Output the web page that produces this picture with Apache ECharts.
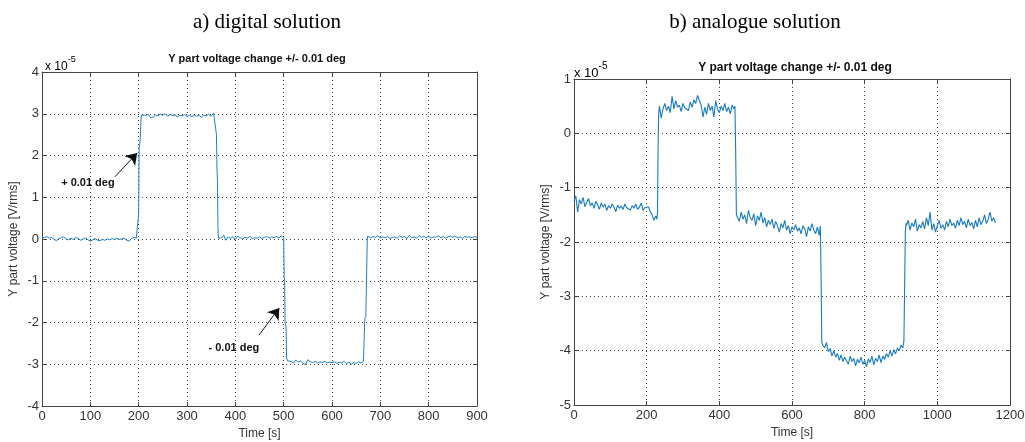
<!DOCTYPE html>
<html>
<head>
<meta charset="utf-8">
<script src="https://cdn.jsdelivr.net/npm/echarts@6/dist/echarts.min.js"></script>
<style>
  html, body { margin: 0; padding: 0; background: #fff; }
  #main { width: 1025px; height: 442px; }
</style>
</head>
<body>
<div id="main"></div>
<script>
'use strict';

// chart titles
var panelTitles = ['a) digital solution', 'b) analogue solution'];
var plotTitle = 'Y part voltage change +/- 0.01 deg';

// a) digital solution: [time s, voltage x1e-5]
var digitalData = [
    [0, 0.05], [5, 0.03], [10, 0.06], [15, 0.02], [20, 0.04], [25, -0.01], [30, -0.04], [35, 0.01],
    [40, 0.03], [45, 0.05], [50, 0.0], [55, -0.02], [60, 0.02], [65, -0.01], [70, 0.04], [75, 0.01],
    [80, -0.03], [85, 0.0], [90, 0.03], [95, -0.02], [100, -0.05], [105, -0.02], [110, 0.01], [115, -0.03],
    [120, -0.04], [125, -0.01], [130, -0.03], [135, 0.0], [140, -0.02], [145, 0.01], [150, -0.01], [155, 0.02],
    [160, -0.01], [165, 0.0], [170, 0.02], [175, -0.03], [180, -0.05], [185, 0.01], [190, 0.04], [195, 0.02],
    [199, 0.0], [200, 0.6], [201, 2.2], [203, 2.35], [205, 2.9], [206, 2.97], [210, 2.94], [215, 2.96],
    [220, 2.98], [225, 2.9], [230, 2.92], [235, 2.97], [240, 2.95], [245, 2.99], [250, 2.96], [255, 3.0],
    [260, 2.94], [265, 2.98], [270, 2.96], [275, 2.97], [280, 2.93], [285, 2.96], [290, 2.95], [295, 2.98],
    [300, 2.94], [305, 2.96], [310, 2.93], [315, 2.97], [320, 2.94], [325, 2.96], [330, 2.92], [335, 2.97],
    [340, 2.95], [345, 2.99], [350, 2.94], [355, 3.02], [359, 2.98], [361, 2.5], [362, 1.7], [363, 1.4],
    [364, 0.3], [365, 0.02], [368, 0.0], [372, 0.03], [376, 0.09], [380, -0.03], [385, 0.05], [390, 0.01],
    [395, 0.06], [400, -0.01], [405, 0.07], [410, 0.03], [415, 0.0], [420, 0.04], [425, 0.02], [430, 0.06],
    [435, 0.01], [440, 0.03], [445, 0.02], [450, 0.05], [455, 0.01], [460, 0.04], [465, 0.06], [470, 0.02],
    [475, 0.05], [480, 0.03], [485, 0.06], [490, 0.02], [495, 0.08], [500, 0.02], [501, -0.9], [502, -1.0],
    [503, -2.0], [505, -2.1], [506, -2.85], [508, -2.92], [510, -2.88], [515, -2.93], [520, -2.97], [525, -2.9],
    [530, -2.95], [535, -2.92], [540, -2.98], [545, -3.01], [550, -2.89], [555, -2.94], [560, -2.96], [565, -2.93],
    [570, -2.97], [575, -2.94], [580, -2.96], [585, -2.93], [590, -2.97], [595, -2.95], [600, -2.96], [605, -2.94],
    [610, -2.98], [615, -2.95], [620, -2.97], [625, -2.93], [630, -2.99], [635, -2.95], [640, -3.0], [645, -2.96],
    [650, -2.98], [655, -2.94], [660, -2.97], [665, -2.93], [667, -2.92], [668, -1.9], [670, -1.85], [672, -0.6],
    [673, 0.0], [674, 0.07], [677, 0.1], [680, 0.03], [685, 0.06], [690, 0.04], [695, 0.08], [700, 0.02],
    [705, 0.05], [710, 0.03], [715, 0.06], [720, 0.01], [725, 0.04], [730, 0.05], [735, 0.02], [740, 0.07],
    [745, 0.04], [750, 0.06], [755, 0.01], [760, 0.09], [765, 0.03], [770, 0.05], [775, 0.02], [780, 0.08],
    [785, 0.04], [790, 0.06], [795, 0.03], [800, 0.07], [805, 0.02], [810, 0.05], [815, 0.04], [820, 0.08],
    [825, 0.03], [830, 0.06], [835, 0.02], [840, 0.05], [845, 0.07], [850, 0.04], [855, 0.06], [860, 0.03],
    [865, 0.05], [870, 0.02], [875, 0.06], [880, 0.04], [885, 0.05], [890, 0.03], [895, 0.06], [900, 0.04]
];

// b) analogue solution: [time s, voltage x1e-5]
var analogueData = [
    [0, -1.25], [5, -1.15], [10, -1.45], [15, -1.22], [20, -1.3], [25, -1.18], [30, -1.35], [35, -1.27],
    [40, -1.2], [45, -1.33], [50, -1.28], [55, -1.38], [60, -1.25], [65, -1.32], [70, -1.4], [75, -1.28],
    [80, -1.36], [85, -1.3], [90, -1.42], [95, -1.33], [100, -1.38], [105, -1.3], [110, -1.36], [115, -1.44],
    [120, -1.32], [125, -1.38], [130, -1.34], [135, -1.4], [140, -1.3], [145, -1.37], [150, -1.35], [155, -1.41],
    [160, -1.33], [165, -1.38], [170, -1.3], [175, -1.4], [180, -1.36], [185, -1.28], [190, -1.42], [195, -1.37],
    [200, -1.4], [205, -1.35], [210, -1.45], [215, -1.5], [220, -1.6], [225, -1.52], [228, -1.58], [230, -1.45],
    [231, -0.5], [233, 0.35], [235, 0.5], [240, 0.28], [245, 0.45], [250, 0.55], [255, 0.42], [260, 0.5],
    [265, 0.38], [270, 0.68], [275, 0.45], [280, 0.6], [285, 0.48], [290, 0.52], [295, 0.4], [300, 0.55],
    [305, 0.47], [310, 0.5], [315, 0.42], [320, 0.58], [325, 0.48], [330, 0.62], [335, 0.55], [340, 0.7],
    [345, 0.6], [350, 0.52], [355, 0.3], [360, 0.48], [365, 0.35], [370, 0.55], [375, 0.42], [380, 0.5],
    [385, 0.3], [390, 0.6], [395, 0.45], [400, 0.38], [405, 0.5], [410, 0.42], [415, 0.55], [420, 0.4],
    [425, 0.48], [430, 0.36], [435, 0.52], [440, 0.45], [443, 0.5], [445, -0.35], [447, -1.5], [450, -1.55],
    [455, -1.62], [460, -1.45], [465, -1.58], [470, -1.5], [475, -1.66], [480, -1.42], [485, -1.55], [490, -1.6],
    [495, -1.48], [500, -1.7], [505, -1.52], [510, -1.6], [515, -1.45], [520, -1.65], [525, -1.55], [530, -1.72],
    [535, -1.6], [540, -1.68], [545, -1.58], [550, -1.75], [555, -1.62], [560, -1.7], [565, -1.82], [570, -1.66],
    [575, -1.74], [580, -1.6], [585, -1.78], [590, -1.7], [595, -1.85], [600, -1.72], [605, -1.78], [610, -1.68],
    [615, -1.8], [620, -1.74], [625, -1.85], [630, -1.7], [635, -1.76], [640, -1.9], [645, -1.72], [650, -1.8],
    [655, -1.66], [660, -1.78], [665, -1.85], [670, -1.72], [675, -1.88], [678, -1.7], [680, -2.6], [682, -3.85],
    [685, -3.9], [690, -3.95], [695, -3.85], [700, -4.02], [705, -3.96], [710, -4.1], [715, -4.0], [720, -4.12],
    [725, -4.05], [730, -4.18], [735, -4.08], [740, -4.2], [745, -4.12], [750, -4.15], [755, -4.25], [760, -4.1],
    [765, -4.2], [770, -4.14], [775, -4.28], [780, -4.16], [785, -4.22], [790, -4.12], [795, -4.25], [800, -4.18],
    [805, -4.3], [810, -4.15], [815, -4.22], [820, -4.1], [825, -4.26], [830, -4.14], [835, -4.2], [840, -4.08],
    [845, -4.22], [850, -4.1], [855, -4.16], [860, -4.05], [865, -4.12], [870, -4.0], [875, -4.1], [880, -3.98],
    [885, -4.06], [890, -3.95], [895, -4.0], [900, -3.9], [905, -3.95], [908, -3.82], [910, -3.85], [912, -1.8],
    [914, -1.65], [915, -1.7], [920, -1.6], [925, -1.78], [930, -1.65], [935, -1.72], [940, -1.58], [945, -1.8],
    [950, -1.68], [955, -1.74], [960, -1.62], [965, -1.76], [970, -1.55], [975, -1.7], [980, -1.45], [985, -1.78],
    [990, -1.66], [995, -1.82], [1000, -1.7], [1005, -1.6], [1010, -1.75], [1015, -1.68], [1020, -1.78], [1025, -1.62],
    [1030, -1.72], [1035, -1.58], [1040, -1.7], [1045, -1.65], [1050, -1.75], [1055, -1.6], [1060, -1.7], [1065, -1.55],
    [1070, -1.68], [1075, -1.62], [1080, -1.74], [1085, -1.58], [1090, -1.7], [1095, -1.64], [1100, -1.76], [1105, -1.6],
    [1110, -1.72], [1115, -1.55], [1120, -1.68], [1125, -1.62], [1130, -1.5], [1135, -1.66], [1140, -1.58], [1145, -1.45],
    [1150, -1.62], [1155, -1.55], [1160, -1.65]
];

// annotations on the digital plot: text anchor, arrow tail, arrow tip
var noteLabels = ['+ 0.01 deg', '- 0.01 deg'];
var noteTextAt = [[95, 1.34], [397, -2.61]];
var noteArrows = [
    [[151, 1.49], [197, 2.06]],
    [[449, -2.30], [491, -1.65]]
];

var lineColor = '#1f80c8';
var tickFont = 'Liberation Sans';

function bottomAxis(gridIndex, max, interval) {
    return {
        gridIndex: gridIndex, type: 'value', min: 0, max: max, interval: interval,
        name: 'Time [s]', nameLocation: 'middle', nameGap: 22,
        nameTextStyle: { fontFamily: tickFont, fontSize: 12, color: '#333' },
        axisLine: { onZero: false, lineStyle: { color: '#444', width: 1 } },
        axisTick: { inside: true, length: 4, lineStyle: { color: '#444' } },
        axisLabel: {
            fontFamily: tickFont, fontSize: 13, color: '#333', margin: 4,
            formatter: function(v) { return String(v); }
        },
        splitLine: { show: true, lineStyle: { color: '#444', type: [1, 3], width: 1 } }
    };
}

function topAxis(gridIndex, max, interval) {
    return {
        gridIndex: gridIndex, type: 'value', position: 'top', min: 0, max: max, interval: interval,
        axisLine: { show: true, onZero: false, lineStyle: { color: '#444', width: 1 } },
        axisTick: { show: true, inside: true, length: 4, lineStyle: { color: '#444' } },
        axisLabel: { show: false },
        splitLine: { show: false }
    };
}

function leftAxis(gridIndex, min, max) {
    return {
        gridIndex: gridIndex, type: 'value', min: min, max: max, interval: 1,
        name: 'Y part voltage [V/rms]', nameLocation: 'middle', nameGap: 22,
        nameTextStyle: { fontFamily: tickFont, fontSize: 12, color: '#333' },
        axisLine: { show: true, onZero: false, lineStyle: { color: '#444', width: 1 } },
        axisTick: { show: true, inside: true, length: 4, lineStyle: { color: '#444' } },
        axisLabel: { fontFamily: tickFont, fontSize: 13, color: '#333', margin: 3 },
        splitLine: { show: true, lineStyle: { color: '#444', type: [1, 3], width: 1 } }
    };
}

function rightAxis(gridIndex, min, max) {
    return {
        gridIndex: gridIndex, type: 'value', position: 'right', min: min, max: max, interval: 1,
        axisLine: { show: true, onZero: false, lineStyle: { color: '#444', width: 1 } },
        axisTick: { show: true, inside: true, length: 4, lineStyle: { color: '#444' } },
        axisLabel: { show: false },
        splitLine: { show: false }
    };
}

// small "x 10^-5" label put above the y axis as a graphic text
function scaleLabel(x, y, size) {
    return {
        type: 'text', left: x, top: y,
        style: {
            text: '{a|x 10}{b|-5}',
            rich: {
                a: { fontFamily: tickFont, fontSize: size, color: '#333', verticalAlign: 'bottom', lineHeight: size + 6 },
                b: { fontFamily: tickFont, fontSize: size - 3, color: '#333', verticalAlign: 'top', lineHeight: size + 6 }
            }
        }
    };
}

var myChart = echarts.init(document.getElementById('main'));

var noteLines = noteArrows.map(function(a) {
    return [{ coord: a[0], symbol: 'none' }, { coord: a[1], symbol: 'arrow' }];
});
var notePoints = noteLabels.map(function(t, i) {
    return { coord: noteTextAt[i], value: t };
});

var option = {
    animation: false,
    backgroundColor: '#fff',
    title: [
        { text: panelTitles[0], left: 262, top: 7, textAlign: 'center',
          textStyle: { fontFamily: 'Liberation Serif', fontSize: 21, fontWeight: 'normal', color: '#000' } },
        { text: panelTitles[1], left: 750, top: 7, textAlign: 'center',
          textStyle: { fontFamily: 'Liberation Serif', fontSize: 21, fontWeight: 'normal', color: '#000' } },
        { text: plotTitle, left: 252, top: 48, textAlign: 'center',
          textStyle: { fontFamily: tickFont, fontSize: 11, fontWeight: 'bold', color: '#111' } },
        { text: plotTitle, left: 790, top: 57, textAlign: 'center',
          textStyle: { fontFamily: tickFont, fontSize: 12, fontWeight: 'bold', color: '#111' } }
    ],
    graphic: [scaleLabel(45, 55, 12), scaleLabel(574, 61, 13)],
    grid: [
        { left: 42, top: 72, width: 435, height: 334, outerBoundsMode: 'none' },
        { left: 574, top: 79, width: 436, height: 326, outerBoundsMode: 'none' }
    ],
    xAxis: [
        bottomAxis(0, 900, 100), topAxis(0, 900, 100),
        bottomAxis(1, 1200, 200), topAxis(1, 1200, 200)
    ],
    yAxis: [
        leftAxis(0, -4, 4), rightAxis(0, -4, 4),
        leftAxis(1, -5, 1), rightAxis(1, -5, 1)
    ],
    series: [{
        name: 'digital',
        type: 'line',
        xAxisIndex: 0, yAxisIndex: 0,
        showSymbol: false,
        lineStyle: { color: lineColor, width: 1 },
        data: digitalData,
        markLine: {
            silent: true,
            symbolSize: 11,
            lineStyle: { color: '#111', width: 1, type: 'solid' },
            label: { show: false },
            data: noteLines
        },
        markPoint: {
            silent: true,
            symbol: 'circle',
            symbolSize: 0,
            label: {
                show: true, position: 'inside', formatter: '{c}',
                fontFamily: tickFont, fontSize: 11, fontWeight: 'bold', color: '#111'
            },
            data: notePoints
        }
    }, {
        name: 'analogue',
        type: 'line',
        xAxisIndex: 2, yAxisIndex: 2,
        showSymbol: false,
        lineStyle: { color: '#1a7cc0', width: 1.1 },
        data: analogueData
    }]
};
myChart.setOption(option);
</script>
</body>
</html>
